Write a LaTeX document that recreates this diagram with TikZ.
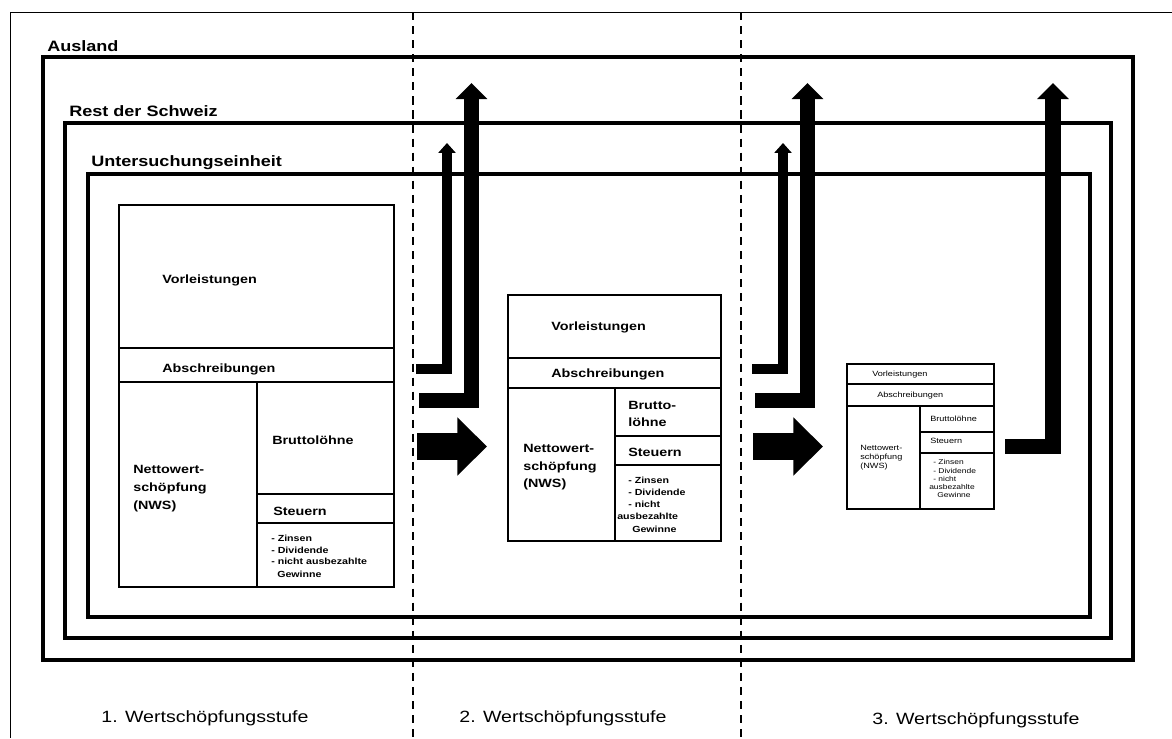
\documentclass[tikz,border=0pt]{standalone}
\usepackage{fontspec}
\setmainfont{Liberation Sans}[FakeStretch=1.2]
\usetikzlibrary{arrows.meta}
\tikzset{region/.style={line width=2.9pt},
	cell/.style={line width=1.3pt},
	smallcell/.style={line width=0.9pt},
	stagesep/.style={line width=1pt,dash pattern=on 5.8pt off 4.2pt},
	regionlbl/.style={inner sep=0pt,anchor=base west,font=\bfseries\fontsize{10.7}{12}\selectfont},
	stagelbl/.style={inner sep=0pt,anchor=base,font=\fontsize{11.6}{13}\selectfont},
	lbl/.style={inner sep=0pt,anchor=base west,font=\bfseries\fontsize{8.5}{10}\selectfont},
	lst/.style={inner sep=0pt,anchor=base west,font=\bfseries\fontsize{6.3}{7}\selectfont},
	tinylbl/.style={inner sep=0pt,anchor=base west,font=\fontsize{5.4}{6}\selectfont},
	tinylst/.style={inner sep=0pt,anchor=base west,font=\fontsize{5}{6}\selectfont},
	flowthin/.style={line width=7.1pt,-{Triangle[width=12pt,length=7pt]}},
	flowthick/.style={line width=11.3pt,-{Triangle[width=22pt,length=11.5pt]}},
	flowmain/.style={line width=19.1pt,-{Triangle[width=40pt,length=21pt]}}}

\begin{document}
\begin{tikzpicture}[x=0.025cm,y=-0.025cm]
\useasboundingbox (0,0) rectangle (1172,738);
\draw[line width=0.7pt] (1172,12) -- (10,12) -- (10,738);

% Bereiche
\draw[region] (43,57) rectangle (1133,660);
\draw[region] (65,123) rectangle (1111,638);
\draw[region] (88,174) rectangle (1090,617);
\node[regionlbl] (ausland) at (47,51) {Ausland};
\node[regionlbl] (rest) at (69,116) {Rest der Schweiz};
\node[regionlbl] (unters) at (91,166) {Untersuchungseinheit};

\foreach \x in {413,741} {
	\draw[stagesep] (\x,12) -- (\x,738);
};
\node[stagelbl] (stufe1) at (205,722) {1. Wertschöpfungsstufe};
\node[stagelbl] (stufe2) at (563,722) {2. Wertschöpfungsstufe};
\node[stagelbl] (stufe3) at (976,724) {3. Wertschöpfungsstufe};

% 1. Stufe
\draw[cell] (119,205) rectangle (394,587);
\draw[cell] (119,348) -- (394,348) (119,382) -- (394,382) (257,382) -- (257,587)
	(257,494) -- (394,494) (257,523) -- (394,523);
\node[lbl] (vl1) at (162,283) {Vorleistungen};
\node[lbl] (ab1) at (162,372) {Abschreibungen};
\node[lbl] (bl1) at (272,444) {Bruttolöhne};
\node[lbl] (st1) at (273,515) {Steuern};
\foreach \t/\yy [count=\k] in {Nettowert-/473,schöpfung/491,(NWS)/509} {
	\node[lbl] (nws1\k) at (133,\yy) {\t};
};
\foreach \t/\xx/\yy [count=\k] in {- Zinsen/271/541,- Dividende/271/553,- nicht ausbezahlte/271/564,Gewinne/277/577} {
	\node[lst] (ge1\k) at (\xx,\yy) {\t};
};

% 2. Stufe
\draw[cell] (508,295) rectangle (721,541);
\draw[cell] (508,358) -- (721,358) (508,388) -- (721,388) (615,388) -- (615,541)
	(615,436) -- (721,436) (615,465) -- (721,465);
\node[lbl] (vl2) at (551,330) {Vorleistungen};
\node[lbl] (ab2) at (551,377) {Abschreibungen};
\node[lbl] (bl2a) at (628,409) {Brutto-};
\node[lbl] (bl2b) at (628,426) {löhne};
\node[lbl] (st2) at (628,456) {Steuern};
\foreach \t/\yy [count=\k] in {Nettowert-/452,schöpfung/470,(NWS)/487} {
	\node[lbl] (nws2\k) at (523,\yy) {\t};
};
\foreach \t/\xx/\yy [count=\k] in {- Zinsen/628/483,- Dividende/628/495,- nicht/628/507,ausbezahlte/617/519,Gewinne/632/532} {
	\node[lst] (ge2\k) at (\xx,\yy) {\t};
};

% 3. Stufe
\draw[smallcell] (847,364) rectangle (994,509);
\draw[smallcell] (847,384) -- (994,384) (847,406) -- (994,406) (920,406) -- (920,509)
	(920,432) -- (994,432) (920,453) -- (994,453);
\node[tinylbl] (vl3) at (872,376) {Vorleistungen};
\node[tinylbl] (ab3) at (877,397) {Abschreibungen};
\node[tinylbl] (bl3) at (930,421) {Bruttolöhne};
\node[tinylbl] (st3) at (930,443) {Steuern};
\foreach \t/\yy [count=\k] in {Nettowert-/450,schöpfung/459,(NWS)/468} {
	\node[tinylbl] (nws3\k) at (860,\yy) {\t};
};
\foreach \t/\xx/\yy [count=\k] in {- Zinsen/933/464,- Dividende/933/473,- nicht/933/481,ausbezahlte/929/489,Gewinne/937/497} {
	\node[tinylst] (ge3\k) at (\xx,\yy) {\t};
};

% Ströme
\foreach \dx [count=\s] in {0,336} {
	\coordinate (thinA\s) at (416+\dx,369);
	\coordinate (thinB\s) at (447+\dx,143);
	\coordinate (thickA\s) at (419+\dx,400.5);
	\coordinate (thickB\s) at (471.5+\dx,83);
	\coordinate (mainA\s) at (417+\dx,446.5);
	\coordinate (mainB\s) at (487+\dx,446.5);
	\draw[flowthin] (thinA\s) -| (thinB\s);
	\draw[flowthick] (thickA\s) -| (thickB\s);
	\draw[flowmain] (mainA\s) -- (mainB\s);
};
\coordinate (thickA3) at (1005,446.5);
\coordinate (thickB3) at (1053,83);
\draw[flowthick] (thickA3) -| (thickB3);

\end{tikzpicture}
\end{document}
